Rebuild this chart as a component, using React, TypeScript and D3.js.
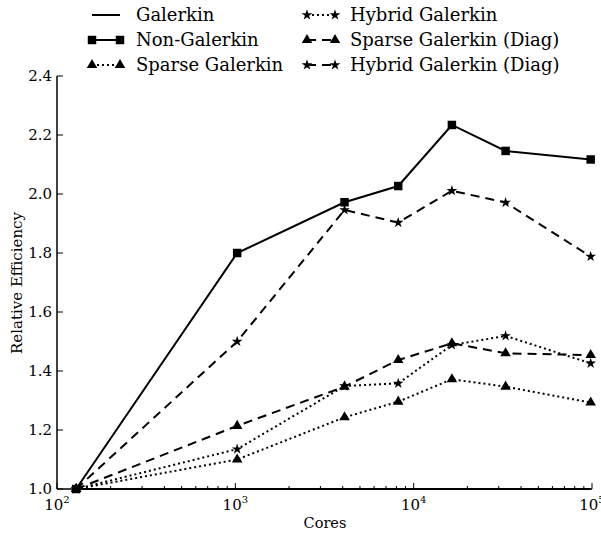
import React from "react";
import * as d3 from "d3";

// cores on the x axis (log scale)
const cores = [128, 1024, 4096, 8192, 16384, 32768, 98304];

// relative efficiency per method
const galerkin = [1.0, 1.0, 1.0, 1.0, 1.0, 1.0, 1.0];
const nonGalerkin = [1.0, 1.8, 1.972, 2.027, 2.234, 2.146, 2.117];
const sparseGalerkin = [1.0, 1.1, 1.243, 1.296, 1.372, 1.347, 1.293];
const hybridGalerkin = [1.0, 1.135, 1.349, 1.358, 1.488, 1.519, 1.426];
const sparseGalerkinDiag = [1.0, 1.214, 1.347, 1.437, 1.494, 1.46, 1.454];
const hybridGalerkinDiag = [1.0, 1.5, 1.946, 1.903, 2.011, 1.971, 1.788];

const yTicks = [1.0, 1.2, 1.4, 1.6, 1.8, 2.0, 2.2, 2.4];
const xMajor = [100, 1000, 10000, 100000];

type Marker = "none" | "square" | "triangle" | "star";

const series: { name: string; values: number[]; dash: string; marker: Marker }[] = [
  { name: "Galerkin", values: galerkin, dash: "none", marker: "none" },
  { name: "Non-Galerkin", values: nonGalerkin, dash: "none", marker: "square" },
  { name: "Sparse Galerkin", values: sparseGalerkin, dash: "2,3", marker: "triangle" },
  { name: "Hybrid Galerkin", values: hybridGalerkin, dash: "2,3", marker: "star" },
  { name: "Sparse Galerkin (Diag)", values: sparseGalerkinDiag, dash: "9,6", marker: "triangle" },
  { name: "Hybrid Galerkin (Diag)", values: hybridGalerkinDiag, dash: "9,6", marker: "star" },
];

const font = "DejaVu Serif";

const symbolPath = (m: Marker) => {
  if (m === "square") return d3.symbol(d3.symbolSquare, 72)()!;
  if (m === "triangle") return d3.symbol(d3.symbolTriangle, 48)()!;
  if (m === "star") return d3.symbol(d3.symbolStar, 36)()!;
  return "";
};

const MarkerMark = ({ m, x, y }: { m: Marker; x: number; y: number }) =>
  m === "none" ? null : (
    <path d={symbolPath(m)} transform={`translate(${x},${y})`} fill="black" />
  );

export default function App() {
  const width = 601;
  const height = 533;

  const x = d3.scaleLog().domain([100, 100000]).range([57, 592]);
  const y = d3.scaleLinear().domain([1.0, 2.4]).range([489, 76]);

  const minor = x.ticks().filter((t) => !xMajor.includes(t));

  const lineGen = d3
    .line<number>()
    .x((_, i) => x(cores[i]))
    .y((d) => y(d));

  // legend layout: two columns of three
  const legendCols = [
    { x0: 92, x1: 120, tx: 136 },
    { x0: 307, x1: 335, tx: 350 },
  ];
  const legendRows = [15, 40, 65];

  return (
    <svg
      width={width}
      height={height}
      style={{ position: "absolute", left: 0, top: 0, background: "white" }}
    >
      {/* data lines */}
      {series.map((s) => (
        <g key={s.name}>
          <path
            d={lineGen(s.values)!}
            fill="none"
            stroke="black"
            strokeWidth={2}
            strokeDasharray={s.dash}
          />
          {s.values.map((v, i) => (
            <MarkerMark key={i} m={s.marker} x={x(cores[i])} y={y(v)} />
          ))}
        </g>
      ))}

      {/* axes */}
      <line x1={57} x2={57} y1={76} y2={489} stroke="black" strokeWidth={1.5} />
      <line x1={57} x2={592} y1={489} y2={489} stroke="black" strokeWidth={1.5} />

      {yTicks.map((t) => (
        <g key={t}>
          <line x1={57} x2={63} y1={y(t)} y2={y(t)} stroke="black" strokeWidth={1} />
          <text x={52} y={y(t)} dy="0.35em" textAnchor="end" fontSize={15} fontFamily={font}>
            {t.toFixed(1)}
          </text>
        </g>
      ))}

      {xMajor.map((t) => (
        <g key={t}>
          <line x1={x(t)} x2={x(t)} y1={489} y2={483} stroke="black" strokeWidth={1} />
          <text x={x(t)} y={510} textAnchor="middle" fontSize={15} fontFamily={font}>
            10
            <tspan fontSize={10} dy={-7}>
              {Math.round(Math.log10(t))}
            </tspan>
          </text>
        </g>
      ))}
      {minor.map((t) => (
        <line key={t} x1={x(t)} x2={x(t)} y1={489} y2={486} stroke="black" strokeWidth={1} />
      ))}

      <text x={325} y={528} textAnchor="middle" fontSize={14.5} fontFamily={font}>
        Cores
      </text>
      <text
        transform="translate(22,283) rotate(-90)"
        textAnchor="middle"
        fontSize={15}
        fontFamily={font}
      >
        Relative Efficiency
      </text>

      {/* legend */}
      {series.map((s, i) => {
        const c = legendCols[Math.floor(i / 3)];
        const ly = legendRows[i % 3];
        return (
          <g key={s.name}>
            <line
              x1={c.x0}
              x2={c.x1}
              y1={ly}
              y2={ly}
              stroke="black"
              strokeWidth={2}
              strokeDasharray={s.dash}
            />
            <MarkerMark m={s.marker} x={c.x0} y={ly} />
            <MarkerMark m={s.marker} x={c.x1} y={ly} />
            <text x={c.tx} y={ly} dy="0.35em" fontSize={18} fontFamily={font}>
              {s.name}
            </text>
          </g>
        );
      })}
    </svg>
  );
}
